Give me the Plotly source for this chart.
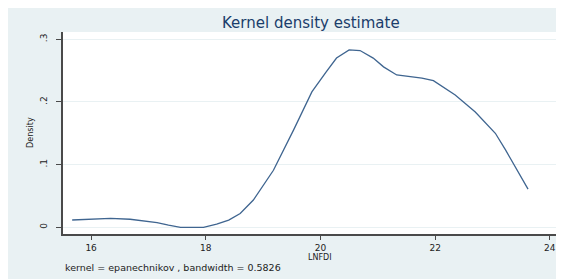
import plotly.graph_objects as go

# Kernel density estimate of LNFDI
lnfdi = [15.67, 16.0, 16.34, 16.68, 16.9, 17.15, 17.35, 17.56, 17.96, 18.19, 18.4, 18.6,
         18.83, 19.18, 19.53, 19.85, 20.1, 20.28, 20.5, 20.69, 20.92, 21.1, 21.33,
         21.77, 21.97, 22.35, 22.7, 23.05, 23.23, 23.62]
density = [0.0116, 0.0135, 0.0143, 0.0128, 0.0105, 0.0073, 0.0035, 0.0, 0.0, 0.005, 0.0115, 0.022,
           0.0435, 0.091, 0.155, 0.216, 0.248, 0.27, 0.283, 0.282, 0.27, 0.256, 0.243,
           0.238, 0.234, 0.211, 0.184, 0.15, 0.123, 0.061]

x_ticks = [16, 18, 20, 22, 24]
y_ticks = [0, 0.1, 0.2, 0.3]
y_labels = ["0", ".1", ".2", ".3"]

title = "Kernel density estimate"
x_title = "LNFDI"
y_title = "Density"
note = "kernel = epanechnikov , bandwidth = 0.5826"

FONT = "DejaVu Sans"
BG = "#E9F1F3"
AX = "#4a4a4a"

fig = go.Figure()
fig.add_trace(go.Scatter(x=lnfdi, y=density, mode="lines",
                         line=dict(color="#3F6590", width=1.3),
                         hoverinfo="skip", showlegend=False))

fig.update_layout(
    width=556, height=271,
    margin=dict(l=55, r=5, t=24, b=45),
    paper_bgcolor=BG,
    plot_bgcolor="white",
    font=dict(family=FONT, size=9, color="#222222"),
    showlegend=False,
    annotations=[
        dict(text=title, xref="paper", yref="paper", x=0.5, y=1.0, yshift=9,
             xanchor="center", yanchor="middle", showarrow=False,
             font=dict(family=FONT, size=15, color="#1a3d6b")),
        dict(text=x_title, xref="paper", yref="paper", x=0.519, y=0, yshift=-23,
             xanchor="center", yanchor="middle", showarrow=False,
             font=dict(family=FONT, size=8, color="#222222")),
        dict(text=y_title, xref="paper", yref="paper", x=0, xshift=-33, y=0.5,
             xanchor="center", yanchor="middle", showarrow=False, textangle=-90,
             font=dict(family="Liberation Sans Narrow, DejaVu Sans Condensed, Liberation Sans", size=9, color="#222222")),
        dict(text=note, xref="paper", yref="paper", x=0, y=0, yshift=-33,
             xanchor="left", yanchor="middle", showarrow=False,
             font=dict(family=FONT, size=9.5, color="#222222")),
    ],
)

fig.update_xaxes(
    range=[15.51, 24.16], tickvals=x_ticks, ticktext=[str(v) for v in x_ticks],
    showgrid=False, zeroline=False, showline=True, linecolor=AX, linewidth=1.5,
    ticks="outside", ticklen=4, tickcolor=AX, tickwidth=1.2,
    tickfont=dict(family=FONT, size=9, color="#222222"),
)
fig.update_yaxes(
    range=[-0.0107, 0.3116], tickvals=y_ticks, ticktext=y_labels, tickangle=-90,
    showgrid=True, gridcolor="#E9F1F3", gridwidth=1, zeroline=False,
    showline=True, linecolor=AX, linewidth=1.5,
    ticks="outside", ticklen=5, tickcolor=AX, tickwidth=1.2, ticklabelstandoff=6,
    tickfont=dict(family=FONT, size=9, color="#222222"),
)

fig.write_html("out.html")
